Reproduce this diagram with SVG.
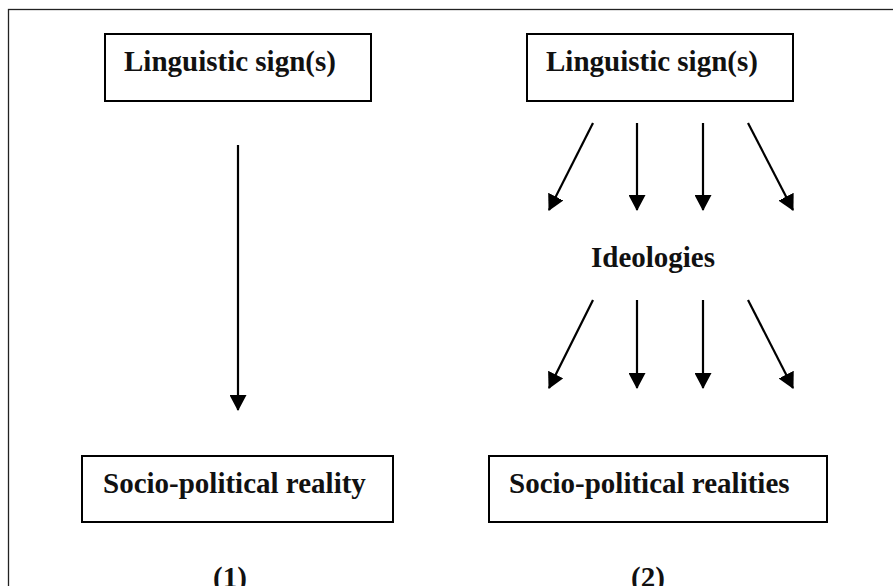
<svg xmlns="http://www.w3.org/2000/svg" width="893" height="586" viewBox="0 0 893 586">
  <defs>
    <marker id="ah" markerUnits="userSpaceOnUse" markerWidth="17" markerHeight="17" refX="15" refY="8.5" orient="auto">
      <path d="M0,0 L16,8.5 L0,17 Z" fill="#000"/>
    </marker>
    <style>
      .box { fill: #fff; stroke: #000; stroke-width: 2; }
      .lbl { font-family: "Liberation Serif", "Times New Roman", serif; font-weight: bold; font-size: 29px; fill: #111; }
      .arr { stroke: #000; stroke-width: 2.2; fill: none; marker-end: url(#ah); }
    </style>
  </defs>
  <rect x="0" y="0" width="893" height="586" fill="#fff"/>
  <rect x="8.5" y="9.5" width="900" height="600" fill="none" stroke="#222" stroke-width="1.3"/>

  <g id="sign1">
    <rect class="box" x="105" y="34" width="266" height="67"/>
    <text class="lbl" x="124" y="71">Linguistic sign(s)</text>
  </g>
  <g id="sign2">
    <rect class="box" x="527" y="34" width="266" height="67"/>
    <text class="lbl" x="546" y="71">Linguistic sign(s)</text>
  </g>
  <g id="ideologies">
    <text class="lbl" x="653" y="267" text-anchor="middle">Ideologies</text>
  </g>
  <g id="reality1">
    <rect class="box" x="82" y="456" width="311" height="66"/>
    <text class="lbl" x="103" y="493">Socio-political reality</text>
  </g>
  <g id="reality2">
    <rect class="box" x="489" y="456" width="338" height="66"/>
    <text class="lbl" x="509" y="493">Socio-political realities</text>
  </g>
  <g id="label1">
    <text class="lbl" x="230" y="587" text-anchor="middle">(1)</text>
  </g>
  <g id="label2">
    <text class="lbl" x="648" y="587" text-anchor="middle">(2)</text>
  </g>

  <g id="connectors">
    <line class="arr" x1="238" y1="145" x2="238" y2="410"/>
    <line class="arr" x1="593" y1="123" x2="549" y2="210"/>
    <line class="arr" x1="637" y1="123" x2="637" y2="210"/>
    <line class="arr" x1="703" y1="123" x2="703" y2="210"/>
    <line class="arr" x1="748" y1="123" x2="793" y2="210"/>
    <line class="arr" x1="593" y1="300" x2="549" y2="388"/>
    <line class="arr" x1="637" y1="300" x2="637" y2="388"/>
    <line class="arr" x1="703" y1="300" x2="703" y2="388"/>
    <line class="arr" x1="748" y1="300" x2="793" y2="388"/>
  </g>
</svg>
